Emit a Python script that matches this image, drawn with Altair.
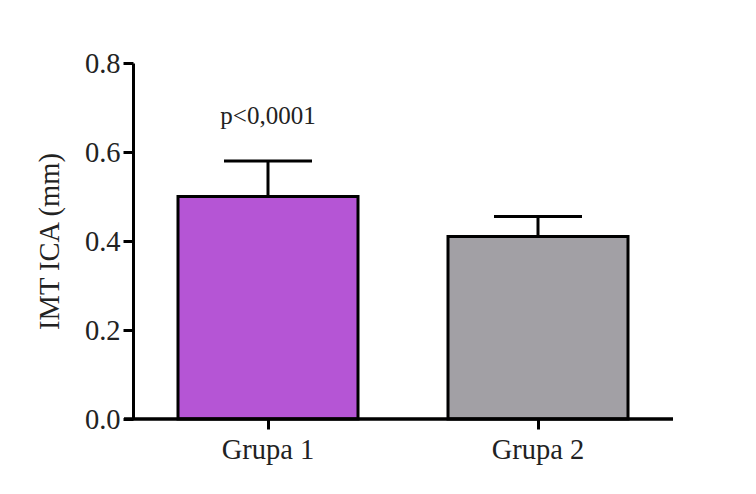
import altair as alt
import pandas as pd

groups = ["Grupa 1", "Grupa 2"]
means = [0.50, 0.41]
upper = [0.58, 0.455]
colors = ["#B555D5", "#A2A0A5"]
p_label = "p<0,0001"
p_group = "Grupa 1"
p_y = 0.68
y_ticks = [0.0, 0.2, 0.4, 0.6, 0.8]

df = pd.DataFrame({"group": groups, "mean": means, "upper": upper, "color": colors})

FONT = "Liberation Serif"
FS = 28.5
W, H = 540, 356

x_enc = alt.X("group:N", sort=groups,
              scale=alt.Scale(paddingInner=1/3, paddingOuter=1/6),
              axis=alt.Axis(title=None, labelAngle=0, labelFont=FONT, labelFontSize=FS,
                            labelColor="#222", labelPadding=6, tickSize=10, tickWidth=3,
                            tickColor="black", domain=False))
y_scale = alt.Scale(domain=[0, 0.8], nice=False)

base = alt.Chart(df)

err_line = base.mark_rule(color="black", strokeWidth=3).encode(
    x=x_enc,
    y=alt.Y("mean:Q", scale=y_scale),
    y2="upper:Q",
)
caps = base.mark_tick(color="black", size=88, thickness=3, orient="horizontal", opacity=1).encode(
    x=alt.X("group:N", sort=groups),
    y=alt.Y("upper:Q", scale=y_scale),
)
bars = base.mark_bar(stroke="black", strokeWidth=3, opacity=1).encode(
    x=alt.X("group:N", sort=groups),
    y=alt.Y("mean:Q", scale=y_scale,
            axis=alt.Axis(title="IMT ICA (mm)", values=y_ticks, format=".1f",
                          labelFont=FONT, labelFontSize=FS, labelColor="#222",
                          titleFont=FONT, titleFontSize=FS, titleFontWeight="normal",
                          titleColor="#222", titlePadding=20, labelPadding=3,
                          tickSize=10, tickWidth=3, tickColor="black",
                          domainColor="black", domainWidth=3, grid=False)),
    color=alt.Color("color:N", scale=None),
)
xline = alt.Chart(df).mark_rule(color="black", strokeWidth=3).encode(
    x=alt.value(-9), x2=alt.value(W), y=alt.value(H)
)
ptext = alt.Chart(pd.DataFrame({"g": [p_group], "t": [p_label]})).mark_text(
    font=FONT, fontSize=25, color="#222"
).encode(x=alt.X("g:N", sort=groups), y=alt.datum(p_y), text="t:N")

chart = alt.layer(err_line, caps, bars, xline, ptext).properties(
    width=W, height=H,
    autosize=alt.AutoSizeParams(type="none"),
    padding={"left": 133, "top": 63, "right": 83, "bottom": 75},
    background="white",
).configure_view(stroke=None)

chart.save("out.html", embed_options={"renderer": "svg", "actions": False})
